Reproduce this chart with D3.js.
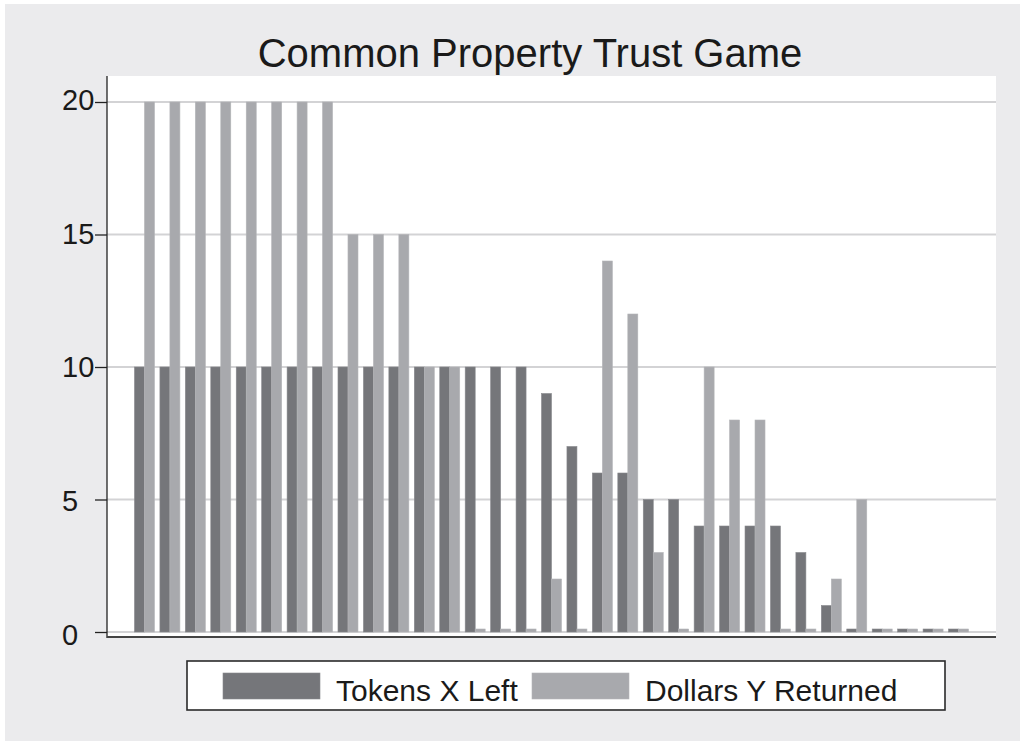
<!DOCTYPE html>
<html>
<head>
<meta charset="utf-8">
<script src="https://cdn.jsdelivr.net/npm/d3@7"></script>
<style>
  html, body { margin: 0; padding: 0; background: #fff; }
  text { font-family: "Liberation Sans", Arial, sans-serif; fill: #1a1a1a; }
</style>
</head>
<body>
<div id="chart"></div>
<script>
// subjects 1..33, ordered as in the figure
var subjects = d3.range(1, 34);
var tokensLeft = [10, 10, 10, 10, 10, 10, 10, 10, 10, 10, 10, 10, 10, 10, 10, 10,
                  9, 7, 6, 6, 5, 5, 4, 4, 4, 4, 3, 1, 0, 0, 0, 0, 0];
var dollarsReturned = [20, 20, 20, 20, 20, 20, 20, 20, 15, 15, 15, 10, 10, 0, 0, 0,
                       2, 0, 14, 12, 3, 0, 10, 8, 8, 0, 0, 2, 5, 0, 0, 0, 0];
var yTicks = [0, 5, 10, 15, 20];
var seriesNames = ["Tokens X Left", "Dollars Y Returned"];
var seriesColors = ["#75767a", "#a8a9ad"];

var width = 1020, height = 742;
var plot = { left: 107, right: 996, top: 76, bottom: 637 };

var svg = d3.select("#chart").append("svg")
    .attr("width", width)
    .attr("height", height);

// outer grey panel
svg.append("rect")
    .attr("x", 5).attr("y", 4)
    .attr("width", width - 5).attr("height", height - 5)
    .attr("fill", "#ebebed");

// plot region
svg.append("rect")
    .attr("x", plot.left).attr("y", plot.top)
    .attr("width", plot.right - plot.left).attr("height", plot.bottom - plot.top)
    .attr("fill", "#ffffff");

var x = d3.scaleBand()
    .domain(subjects)
    .range([plot.left, plot.right])
    .paddingInner(0.214)
    .paddingOuter(1.08);

var xSub = d3.scaleBand()
    .domain([0, 1])
    .range([0, x.bandwidth()]);

var y = d3.scaleLinear()
    .domain([0, 20])
    .range([632, 102]);

// gridlines
svg.append("g")
    .selectAll("line")
    .data(yTicks)
    .join("line")
    .attr("x1", plot.left).attr("x2", plot.right)
    .attr("y1", d => y(d)).attr("y2", d => y(d))
    .attr("stroke", "#d3d3d5")
    .attr("stroke-width", 2.2);

// bars
var table = subjects.map((s, i) => ({ s: s, vals: [tokensLeft[i], dollarsReturned[i]] }));

var groups = svg.append("g")
    .selectAll("g")
    .data(table)
    .join("g")
    .attr("transform", d => "translate(" + x(d.s) + ",0)");

groups.selectAll("rect")
    .data(d => d.vals.map((v, k) => ({ v: v, k: k })))
    .join("rect")
    .attr("x", d => xSub(d.k))
    .attr("width", xSub.bandwidth())
    .attr("y", d => Math.min(y(d.v), y(0) - 3))
    .attr("height", d => Math.max(y(0) - y(d.v), 3))
    .attr("fill", d => seriesColors[d.k])
    .attr("stroke", d => d.k === 0 ? "#88898d" : "#b4b5b8")
    .attr("stroke-width", 0.6);

// y axis
var yAxis = d3.axisLeft(y)
    .tickValues(yTicks)
    .tickSize(12)
    .tickFormat("");

var ya = svg.append("g")
    .attr("transform", "translate(" + plot.left + ",0)")
    .call(yAxis);
ya.select(".domain").remove();
ya.selectAll(".tick line").attr("stroke", "#222").attr("stroke-width", 1.3);

svg.append("line")
    .attr("x1", plot.left).attr("x2", plot.left)
    .attr("y1", plot.top).attr("y2", plot.bottom + 1)
    .attr("stroke", "#222").attr("stroke-width", 1.3);

svg.append("g")
    .selectAll("text")
    .data(yTicks)
    .join("text")
    .attr("x", 62)
    .attr("y", d => y(d) + (10 - d) * 0.27)
    .attr("dy", "0.36em")
    .attr("font-size", 29)
    .text(d => d);

// x axis line
svg.append("line")
    .attr("x1", plot.left).attr("x2", plot.right)
    .attr("y1", plot.bottom).attr("y2", plot.bottom)
    .attr("stroke", "#444").attr("stroke-width", 2);

// title
svg.append("text")
    .attr("x", 530)
    .attr("y", 67)
    .attr("text-anchor", "middle")
    .attr("font-size", 40)
    .text("Common Property Trust Game");

// legend
var legend = svg.append("g");
legend.append("rect")
    .attr("x", 187).attr("y", 661)
    .attr("width", 758).attr("height", 49)
    .attr("fill", "#fff")
    .attr("stroke", "#2a2a2a")
    .attr("stroke-width", 1.6);

var legendX = [223, 532];
var items = legend.selectAll("g.item")
    .data(seriesNames)
    .join("g")
    .attr("class", "item")
    .attr("transform", (d, i) => "translate(" + legendX[i] + ",0)");

items.append("rect")
    .attr("x", 0).attr("y", 673)
    .attr("width", 97).attr("height", 26)
    .attr("fill", (d, i) => seriesColors[i])
    .attr("stroke", (d, i) => i === 0 ? "#88898d" : "#b4b5b8")
    .attr("stroke-width", 0.6);

items.append("text")
    .attr("x", 113)
    .attr("y", 701)
    .attr("font-size", 30)
    .text(d => d);
</script>
</body>
</html>
